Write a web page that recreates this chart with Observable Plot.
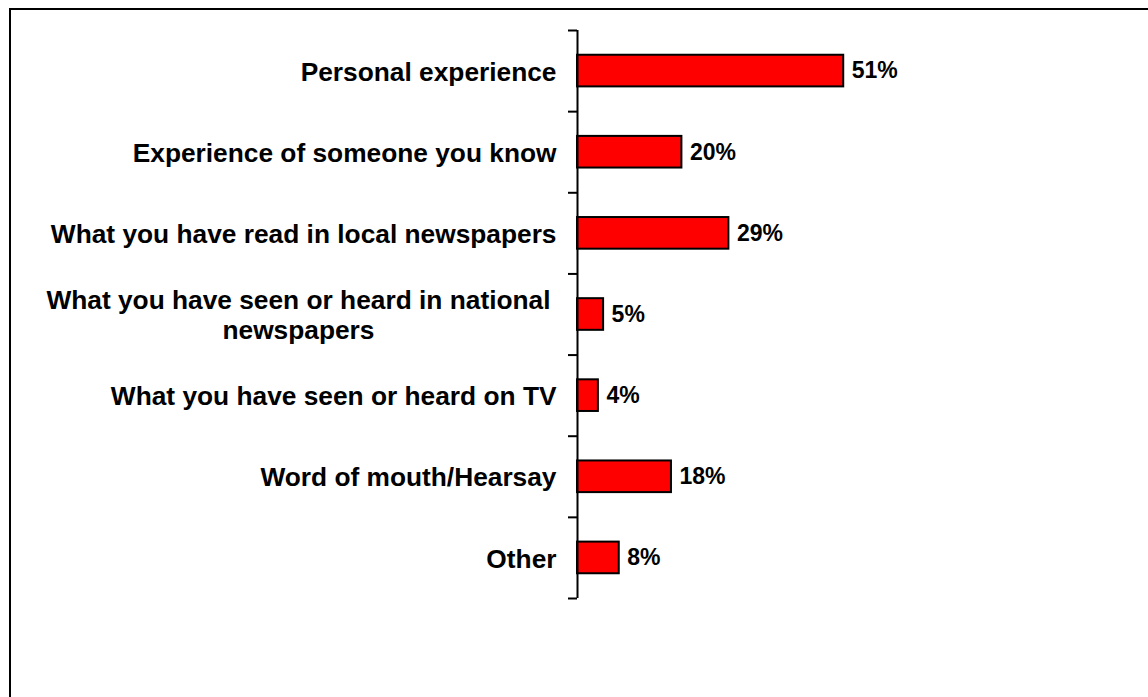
<!DOCTYPE html>
<html><head><meta charset="utf-8">
<script src="https://cdn.jsdelivr.net/npm/d3@7"></script>
<script src="https://cdn.jsdelivr.net/npm/@observablehq/plot@0.6"></script>
<style>
html,body{margin:0;padding:0;background:#fff;}
#wrap{position:relative;width:1148px;height:697px;overflow:hidden;}
#frame{position:absolute;left:9px;top:8px;width:1200px;height:800px;border-top:2px solid #000;border-left:2px solid #000;}
#chart{position:absolute;left:0;top:0;}
</style></head><body>
<div id="wrap"><div id="frame"></div><div id="chart"></div></div>
<script>
const categories = [
  "Personal experience",
  "Experience of someone you know",
  "What you have read in local newspapers",
  "What you have seen or heard in national\nnewspapers",
  "What you have seen or heard on TV",
  "Word of mouth/Hearsay",
  "Other"
];
const values = [51, 20, 29, 5, 4, 18, 8];
const tickPositions = d3.range(categories.length + 1);

const data = categories.map((c, i) => ({category: c, value: values[i], i}));
const font = "'Liberation Sans', Arial, Helvetica, sans-serif";
const half = 0.195;

const plot = Plot.plot({
  width: 1148, height: 697,
  marginLeft: 577, marginRight: 49, marginTop: 30, marginBottom: 99,
  style: {fontFamily: font, background: "transparent", overflow: "visible", color: "#000"},
  x: {domain: [0, 100], axis: null},
  y: {domain: [0, categories.length], reverse: true, axis: null},
  marks: [
    Plot.rect(data, {x1: 0, x2: "value", y1: d => d.i + 0.5 - half, y2: d => d.i + 0.5 + half,
      fill: "#ff0000", stroke: "#000", strokeWidth: 2}),
    Plot.ruleX([0], {y1: 0, y2: categories.length, stroke: "#000", strokeWidth: 2}),
    Plot.axisY({ticks: tickPositions, tickFormat: () => "", tickSize: 9, strokeWidth: 2,
      stroke: "#000", label: null, anchor: "left"}),
    Plot.text(data, {x: 0, y: d => d.i + 0.5, text: "category", textAnchor: "end", dx: -21,
      fontSize: 26.3, fontWeight: "bold", lineHeight: 1.15, fill: "#000"}),
    Plot.text(data, {x: "value", y: d => d.i + 0.5, text: d => d.value + "%", textAnchor: "start",
      dx: 8, fontSize: 23, fontWeight: "bold", fill: "#000"})
  ]
});
document.getElementById("chart").append(plot);
plot.querySelectorAll("text").forEach(t => {
  const spans = t.querySelectorAll("tspan");
  if (spans.length > 1) {
    const w = t.getBBox().width;
    t.setAttribute("text-anchor", "middle");
    spans.forEach(s => s.setAttribute("x", -(w / 2 + 6)));
  }
});
</script>
</body></html>
